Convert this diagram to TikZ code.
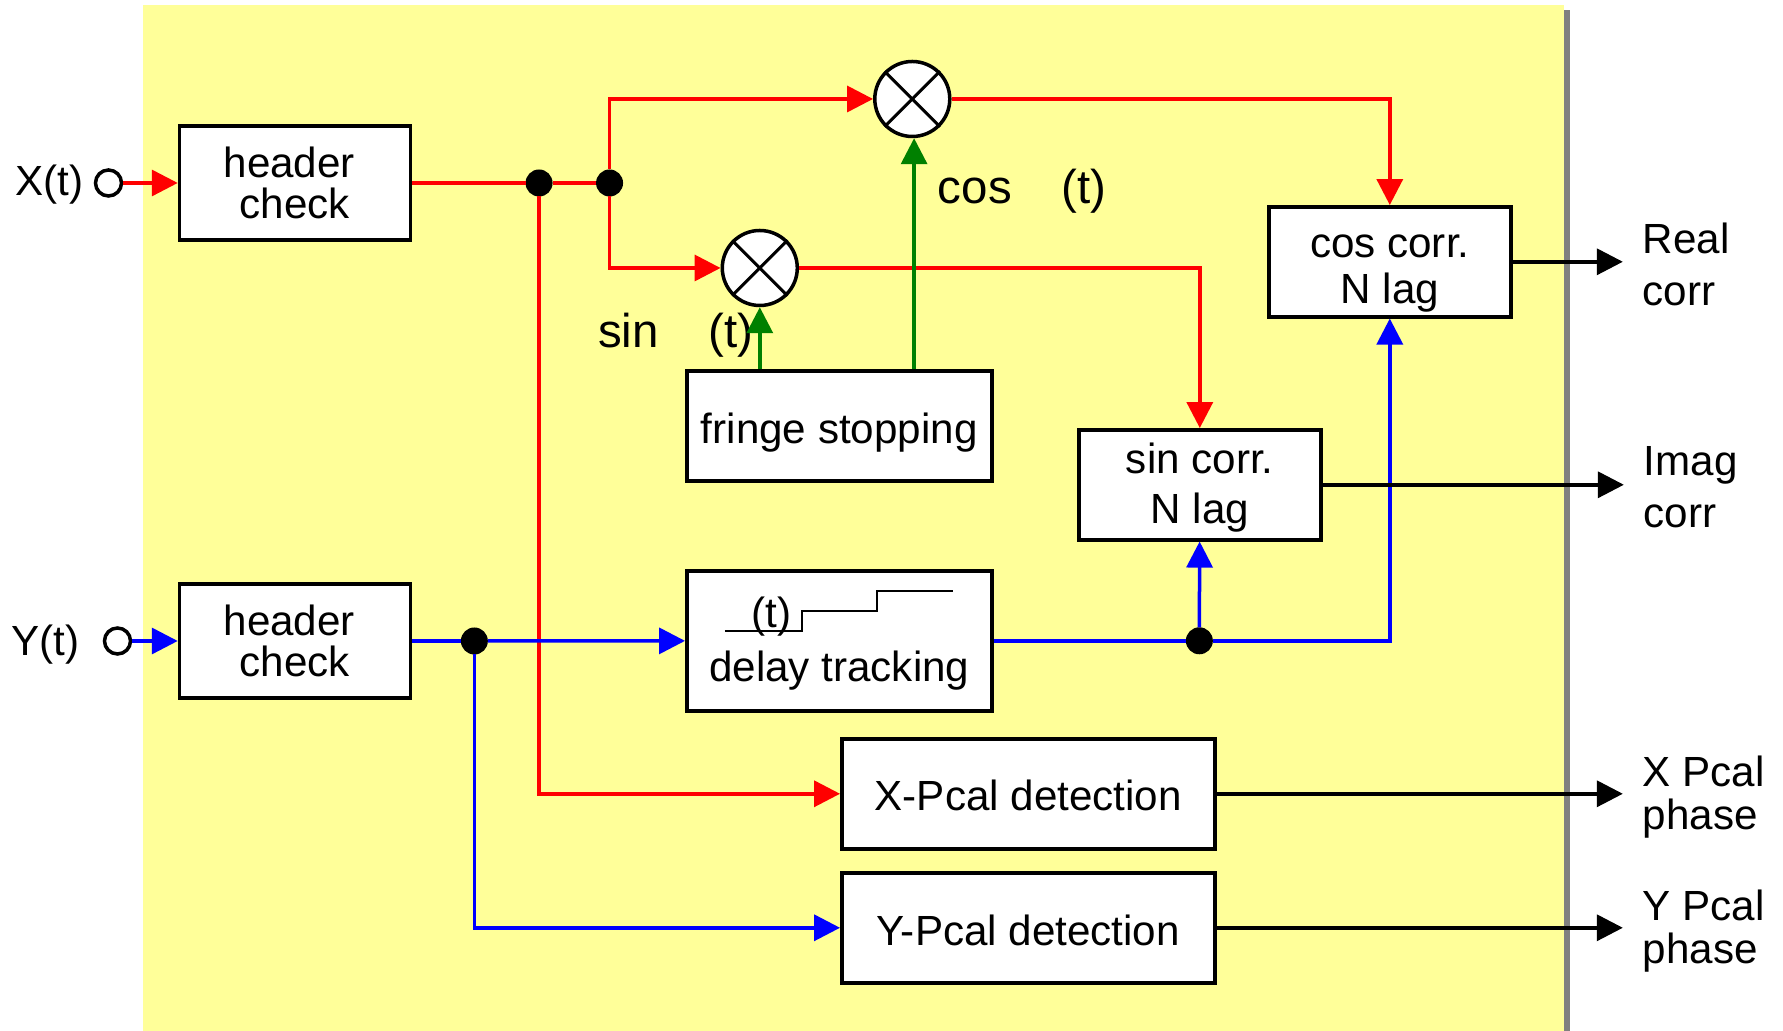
\documentclass[tikz,border=0pt]{standalone}
\usepackage{fontspec}
\setmainfont{Liberation Sans}
\usepackage{xcolor}
\usetikzlibrary{arrows.meta,positioning}
\definecolor{panelyellow}{HTML}{FFFF99}
\definecolor{sigred}{HTML}{FF0000}
\definecolor{siggreen}{HTML}{008000}
\definecolor{sigblue}{HTML}{0000FF}
\newcommand{\bigsig}{\fontsize{13.5}{15}\selectfont}
\newcommand{\lowtxt}[1]{\rule{0pt}{#1}}

\begin{document}
\begin{tikzpicture}[
  font=\fontsize{12}{12.2}\selectfont,
  outer sep=0pt,
  box/.style={draw,line width=.35mm,fill=white,align=center,inner sep=0pt,outer sep=.175mm},
  hdrbox/.style={box,minimum width=23.1mm,minimum height=11.4mm},
  corrbox/.style={box,minimum width=24.2mm,minimum height=11mm},
  widebox/.style={box,minimum width=30.5mm},
  pcalbox/.style={box,minimum width=37.3mm,minimum height=11mm},
  mult/.style={draw,circle,line width=.35mm,fill=white,minimum size=7.5mm,inner sep=0pt,outer sep=.175mm},
  dot/.style={circle,fill=black,minimum size=2.7mm,inner sep=0pt},
  port/.style={draw,circle,line width=.35mm,fill=white,minimum size=2.6mm,inner sep=0pt,outer sep=.175mm},
  lbl/.style={inner sep=0pt},
  outlbl/.style={align=left,inner ysep=0pt,inner xsep=2mm},
  arr/.style={-{Triangle[length=2.6mm,width=2.6mm]},line width=.35mm},
  wire/.style={line width=.35mm},
]
\useasboundingbox (0,0) rectangle (17.83,10.31);
% ----- panel
\fill[gray] (15.64,0) rectangle (15.70,10.21);
\fill[panelyellow] (1.43,0) rectangle (15.64,10.26);
% ----- inputs
\node[hdrbox] (hdrx) at (2.95,8.48) {header\kern1.14mm\\[-.15mm]check};
\node[hdrbox,below=34.05mm of hdrx] (hdry) {header\kern1.14mm\\[-.25mm]check};
\node[port,left=5.45mm of hdrx] (xin) {};
\node[port,left=4.55mm of hdry] (yin) {};
\node[lbl,left=1mm of xin,yshift=-.2mm] (xlbl) {X(t)};
\node[lbl,left=2.3mm of yin,yshift=-.35mm] (ylbl) {Y(t)};
% ----- mixers
\node[dot,right=11.33mm of hdrx] (jxa) {};
\node[dot,right=4.35mm of jxa] (jxb) {};
\node[mult,right=25mm of jxb,yshift=8.4mm] (mulu) {};
\node[mult,right=9.75mm of jxb,yshift=-8.5mm] (mull) {};
\foreach \m in {mulu,mull} {
  \draw[line width=.3mm] (\m.45) -- (\m.225);
  \draw[line width=.3mm] (\m.135) -- (\m.-45);
}
\node[lbl,font=\bigsig,below=3.1mm of mulu,xshift=11mm] (coslbl) {cos\hspace{5mm}(t)};
\node[lbl,font=\bigsig,below=.55mm of mull,xshift=-8.4mm] (sinlbl) {sin\hspace{5mm}(t)};
% ----- middle column
\node[widebox,minimum height=11mm,below=6.18mm of mull,xshift=7.95mm] (fringe) {\lowtxt{4.4mm}fringe stopping};
\node[widebox,minimum height=14mm,below=8.65mm of fringe] (delay) {};
\node[lbl,above=-6.7mm of delay,xshift=-6.8mm] (delayt) {(t)};
\node[lbl,below=-6.2mm of delay] (delaytxt) {delay tracking};
\draw[line width=.15mm] ([shift={(-1.145,.1)}]delay.center) -- ++(.77,0) -- ++(0,.2) -- ++(.75,0) -- ++(0,.2) -- ++(.76,0);
\node[dot,right=19.23mm of delay] (jya) {};
\node[dot,right=4.86mm of hdry] (jyb) {};
% ----- correlators
\node[corrbox,right=8.35mm of fringe,yshift=-5.9mm] (sincorr) {\lowtxt{3.65mm}sin corr.\\[.65mm]N lag};
\node[corrbox,above right=10.95mm and -5.55mm of sincorr] (coscorr) {\lowtxt{4.6mm}cos corr.\\[.3mm]N lag};
\node[pcalbox,below=2.45mm of delay,xshift=18.9mm] (xpcal) {\lowtxt{3.4mm}X-Pcal detection};
\node[pcalbox,below=2.05mm of xpcal] (ypcal) {\lowtxt{3.6mm}Y-Pcal detection};
% ----- outputs
\node[outlbl,right=11.03mm of coscorr,yshift=-.25mm] (realout) {Real\\[.9mm]corr};
\node[outlbl,right=30.13mm of sincorr,yshift=-.25mm] (imagout) {Imag\\[.9mm]corr};
\node[outlbl,right=40.63mm of xpcal,yshift=-.35mm] (xout) {X Pcal\\phase};
\node[outlbl,right=40.63mm of ypcal,yshift=-.35mm] (yout) {Y Pcal\\phase};
% ----- red paths
\draw[arr,sigred] (xin) -- (hdrx);
\draw[wire,sigred] (hdrx) -- (jxa);
\draw[wire,sigred] (jxa) -- (jxb);
\draw[arr,sigred] (jxb) |- (mulu);
\draw[arr,sigred] (jxb) |- (mull);
\draw[arr,sigred] (mulu) -| (coscorr);
\draw[arr,sigred] (mull) -| (sincorr);
\draw[arr,sigred] (jxa) |- (xpcal);
% ----- green paths
\draw[arr,siggreen] (mull |- fringe.north) -- (mull);
\draw[arr,siggreen] ([xshift=.18mm]mulu |- fringe.north) -- ([xshift=.18mm]mulu.south);
% ----- blue paths
\draw[arr,sigblue] (yin) -- (hdry);
\draw[wire,sigblue] (hdry) -- (jyb);
\draw[arr,sigblue] (jyb) -- (delay);
\draw[wire,sigblue] (delay) -- (jya);
\draw[arr,sigblue] (jya) -- (sincorr);
\draw[arr,sigblue] (jya) -| (coscorr);
\draw[arr,sigblue] (jyb) |- (ypcal);
% ----- black outputs
\draw[arr] (coscorr) -- (coscorr -| realout.west);
\draw[arr] (sincorr) -- (sincorr -| imagout.west);
\draw[arr] (xpcal) -- (xpcal -| xout.west);
\draw[arr] (ypcal) -- (ypcal -| yout.west);
\end{tikzpicture}
\end{document}
